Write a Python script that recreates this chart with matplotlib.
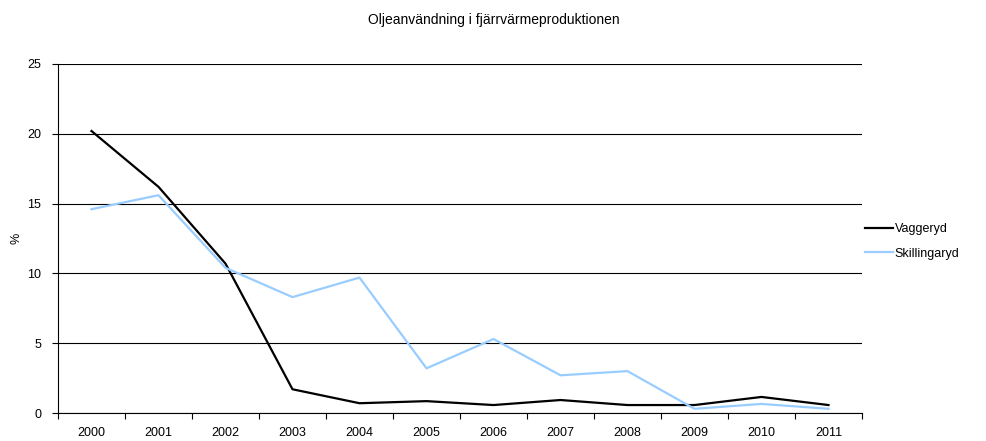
import numpy as np
import matplotlib
matplotlib.use("Agg")
import matplotlib.pyplot as plt

plt.rcParams['font.family'] = ['Liberation Sans', 'DejaVu Sans']

years = ['2000', '2001', '2002', '2003', '2004', '2005', '2006', '2007', '2008', '2009', '2010', '2011']
vaggeryd = [20.2, 16.2, 10.7, 1.7, 0.7, 0.85, 0.57, 0.93, 0.57, 0.57, 1.15, 0.57]
skillingaryd = [14.6, 15.6, 10.4, 8.3, 9.7, 3.2, 5.3, 2.7, 3.0, 0.3, 0.65, 0.3]

fs = 9

fig = plt.figure(figsize=(9.87, 4.41), dpi=100)
ax = fig.add_axes([58 / 987, 28 / 441, 804 / 987, 349 / 441])

x = np.arange(len(years))
ax.plot(x, vaggeryd, color='black', lw=1.6, label='Vaggeryd')
ax.plot(x, skillingaryd, color='#99ccff', lw=1.6, label='Skillingaryd')

ax.set_xlim(-0.5, len(years) - 0.5)
ax.set_ylim(0, 25)
ax.set_yticks([0, 5, 10, 15, 20, 25])
ax.yaxis.grid(True, color='black', lw=0.8)
ax.set_axisbelow(True)

# category axis: ticks between categories, labels at centres
ax.set_xticks(np.arange(-0.5, len(years), 1))
ax.set_xticklabels([])
ax.set_xticks(x, minor=True)
ax.set_xticklabels(years, minor=True, fontsize=fs)
ax.tick_params(axis='x', which='minor', length=0, pad=10)
ax.tick_params(axis='x', which='major', length=4, color='black')
ax.tick_params(axis='y', length=4, labelsize=fs, pad=8)

for s in ['top', 'right']:
    ax.spines[s].set_visible(False)
ax.spines['left'].set_color('black')
ax.spines['bottom'].set_color('black')

ax.set_ylabel('%', fontsize=fs)
ax.yaxis.set_label_coords(-36 / 804, 0.5)
fig.text(0.5, 1 - 20 / 441, 'Oljeanvändning i fjärrvärmeproduktionen', ha='center', va='center', fontsize=10)

ax.legend(loc='center left', bbox_to_anchor=(0.99, 0.492), frameon=False, fontsize=fs,
          handlelength=2.2, handletextpad=0.15, labelspacing=1.0)

fig.savefig('out.png', dpi=100)
